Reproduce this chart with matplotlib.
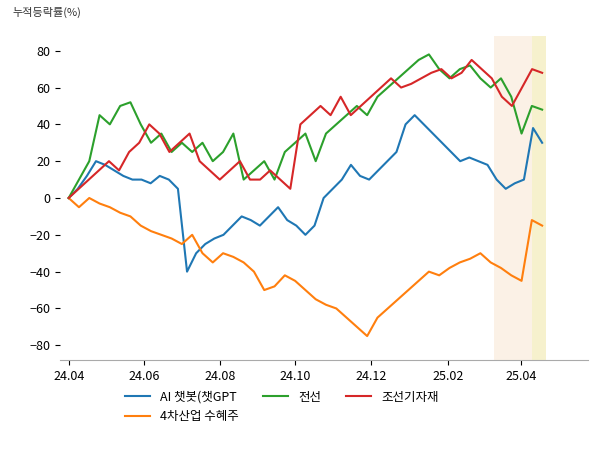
import matplotlib
matplotlib.use("Agg")
import matplotlib.pyplot as plt
import numpy as np
import pandas as pd

plt.rcParams["font.family"] = ["Noto Sans CJK KR", "Noto Sans CJK JP", "Noto Sans CJK SC", "DejaVu Sans"]

start, end = "2024-04-01", "2025-04-18"
ai = [0, 5, 12, 20, 18, 15, 12, 10, 10, 8, 12, 10, 5, -40, -30, -25, -22, -20, -15, -10, -12, -15, -10, -5, -12, -15, -20, -15, 0, 5, 10, 18, 12, 10, 15, 20, 25, 40, 45, 40, 35, 30, 25, 20, 22, 20, 18, 10, 5, 8, 10, 38, 30]
ind4 = [0, -5, 0, -3, -5, -8, -10, -15, -18, -20, -22, -25, -20, -30, -35, -30, -32, -35, -40, -50, -48, -42, -45, -50, -55, -58, -60, -65, -70, -75, -65, -60, -55, -50, -45, -40, -42, -38, -35, -33, -30, -35, -38, -42, -45, -12, -15]
wire = [0, 10, 20, 45, 40, 50, 52, 40, 30, 35, 25, 30, 25, 30, 20, 25, 35, 10, 15, 20, 10, 25, 30, 35, 20, 35, 40, 45, 50, 45, 55, 60, 65, 70, 75, 78, 70, 65, 70, 72, 65, 60, 65, 55, 35, 50, 48]
ship = [0, 5, 10, 15, 20, 15, 25, 30, 40, 35, 25, 30, 35, 20, 15, 10, 15, 20, 10, 10, 15, 10, 5, 40, 45, 50, 45, 55, 45, 50, 55, 60, 65, 60, 62, 65, 68, 70, 65, 68, 75, 70, 65, 55, 50, 60, 70, 68]

series = [("AI 챗봇(챗GPT", ai, "#1f77b4"), ("4차산업 수혜주", ind4, "#ff7f0e"),
          ("전선", wire, "#2ca02c"), ("조선기자재", ship, "#d62728")]

fig, ax = plt.subplots(figsize=(6, 4.5), dpi=100)
fig.subplots_adjust(left=0.1, right=0.98, top=0.92, bottom=0.2)
s, e = pd.Timestamp(start), pd.Timestamp(end)
for name, vals, c in series:
    d = pd.to_datetime(np.linspace(s.value, e.value, len(vals)))
    ax.plot(d, vals, color=c, lw=1.5, label=name)
ax.axvspan(pd.Timestamp("2025-03-10"), pd.Timestamp("2025-04-10"), color="#fbeee0", alpha=0.8, lw=0)
ax.axvspan(pd.Timestamp("2025-04-10"), pd.Timestamp("2025-04-21"), color="#f5f0c8", alpha=0.9, lw=0)
ax.set_ylim(-88, 88)
ax.set_yticks(range(-80, 81, 20))
ticks = pd.to_datetime(["2024-04-01", "2024-06-01", "2024-08-01", "2024-10-01", "2024-12-01", "2025-02-01", "2025-04-01"])
ax.set_xticks(ticks)
ax.set_xticklabels(["24.04", "24.06", "24.08", "24.10", "24.12", "25.02", "25.04"])
ax.set_xlim(pd.Timestamp("2024-03-25"), pd.Timestamp("2025-05-25"))
for sp in ["top", "right", "left"]:
    ax.spines[sp].set_visible(False)
ax.spines["bottom"].set_color("#aaaaaa")
ax.tick_params(labelsize=9)
fig.text(0.02, 0.965, "누적등락률(%)", fontsize=8, color="#333333")
ax.legend(loc="upper center", bbox_to_anchor=(0.42, -0.06), ncol=3, frameon=False, fontsize=9)
fig.savefig("out.png")
